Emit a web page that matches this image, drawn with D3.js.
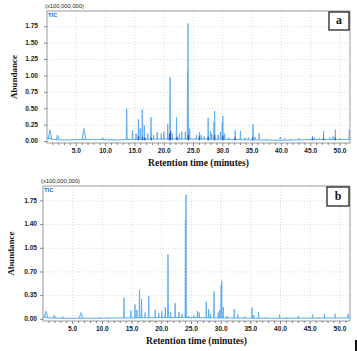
<!DOCTYPE html>
<html>
<head>
<meta charset="utf-8">
<script src="https://cdn.jsdelivr.net/npm/d3@7"></script>
<style>
  body { margin: 0; background: #fff; }
  svg { display: block; }
</style>
</head>
<body>
<svg id="chart" width="357" height="351"></svg>
<script>
// x ticks shared by both panels (minutes)
const xTicks = [5, 10, 15, 20, 25, 30, 35, 40, 45, 50];
const yTicksA = [0, 0.25, 0.5, 0.75, 1.0, 1.25, 1.5, 1.75];
const yTicksB = [0, 0.35, 0.70, 1.05, 1.40, 1.75];

// baseline of the TIC trace [time, abundance x1e8]
const baseA = [[0, 0.06], [1.2, 0.03], [3, 0.025], [5, 0.03], [8, 0.03], [12, 0.025], [13.4, 0.03], [20, 0.04], [24, 0.04], [30, 0.035], [35, 0.025], [40, 0.02], [45, 0.03], [51.7, 0.03]];
const baseB = [[0, 0.03], [1.2, 0.02], [3, 0.015], [8, 0.015], [13.4, 0.02], [20, 0.025], [24, 0.025], [30, 0.02], [40, 0.015], [51.7, 0.02]];

// peaks [time, apex, half width (min)]
const peaksA = [
  [0.5, 0.18, 0.35], [1.8, 0.10, 0.25], [6.3, 0.20, 0.35], [9.5, 0.06, 0.15], [11.0, 0.03, 0.1],
  [13.6, 0.50, 0.08], [14.6, 0.17, 0.06], [15.2, 0.12, 0.06], [15.6, 0.34, 0.07], [15.9, 0.20, 0.05],
  [16.25, 0.49, 0.07], [16.6, 0.25, 0.06], [17.2, 0.12, 0.05], [17.75, 0.37, 0.07], [18.2, 0.10, 0.05],
  [18.8, 0.14, 0.05], [19.5, 0.12, 0.05], [19.95, 0.15, 0.05], [20.6, 0.27, 0.06], [21.0, 0.98, 0.07],
  [21.4, 0.12, 0.05], [22.1, 0.37, 0.06], [22.6, 0.12, 0.05], [23.0, 0.15, 0.05], [23.6, 0.15, 0.05],
  [23.98, 1.08, 0.05], [24.06, 1.80, 0.06], [24.35, 0.20, 0.05], [25.5, 0.10, 0.05], [26.0, 0.14, 0.05],
  [26.3, 0.10, 0.05], [26.8, 0.08, 0.05], [27.5, 0.36, 0.06], [27.9, 0.16, 0.05], [28.1, 0.12, 0.05],
  [28.5, 0.30, 0.05], [28.6, 0.47, 0.06], [29.2, 0.10, 0.05], [29.6, 0.15, 0.05], [29.9, 0.30, 0.05],
  [30.0, 0.39, 0.06], [30.3, 0.12, 0.05], [31.0, 0.06, 0.05], [32.1, 0.17, 0.05], [33.0, 0.16, 0.05],
  [33.8, 0.06, 0.05], [34.4, 0.06, 0.05], [35.15, 0.26, 0.06], [35.5, 0.07, 0.05], [36.2, 0.13, 0.05],
  [37.5, 0.04, 0.05], [39.8, 0.07, 0.06], [40.6, 0.05, 0.05], [41.7, 0.04, 0.05], [43.0, 0.05, 0.05],
  [45.3, 0.08, 0.06], [45.6, 0.06, 0.05], [46.5, 0.05, 0.05], [47.2, 0.16, 0.05], [48.3, 0.06, 0.05],
  [48.8, 0.08, 0.05], [49.2, 0.18, 0.05], [50.0, 0.05, 0.05], [51.6, 0.18, 0.1]
];
// darker overlay trace in panel a
const peaksA2 = [
  [15.6, 0.08, 0.06], [16.3, 0.07, 0.06], [16.7, 0.06, 0.05], [17.8, 0.06, 0.05], [20.9, 0.12, 0.06],
  [21.1, 0.16, 0.05], [22.2, 0.07, 0.05], [24.1, 0.10, 0.05], [26.0, 0.08, 0.05], [27.5, 0.07, 0.05],
  [28.6, 0.10, 0.05], [30.0, 0.09, 0.05], [32.1, 0.06, 0.05], [35.1, 0.06, 0.05], [45.3, 0.05, 0.05],
  [47.2, 0.05, 0.05], [49.2, 0.06, 0.05]
];
const peaksB = [
  [0.5, 0.12, 0.35], [1.9, 0.06, 0.25], [3.3, 0.04, 0.2], [6.4, 0.10, 0.3], [9.5, 0.03, 0.15],
  [11.0, 0.02, 0.1], [13.65, 0.32, 0.07], [14.8, 0.13, 0.06], [15.5, 0.22, 0.06], [15.8, 0.14, 0.05],
  [16.25, 0.44, 0.07], [16.6, 0.30, 0.06], [17.2, 0.10, 0.05], [17.8, 0.34, 0.07], [18.9, 0.14, 0.05],
  [19.5, 0.09, 0.05], [20.0, 0.12, 0.05], [20.6, 0.18, 0.06], [21.05, 0.96, 0.07], [21.5, 0.10, 0.05],
  [22.25, 0.24, 0.06], [22.9, 0.11, 0.05], [23.4, 0.08, 0.05], [23.98, 1.46, 0.05], [24.08, 1.84, 0.06],
  [24.5, 0.05, 0.05], [25.4, 0.06, 0.05], [26.0, 0.12, 0.05], [26.3, 0.10, 0.05], [27.5, 0.26, 0.06],
  [27.9, 0.15, 0.05], [28.2, 0.08, 0.05], [28.8, 0.41, 0.06], [29.5, 0.10, 0.05], [29.75, 0.14, 0.05],
  [30.0, 0.50, 0.05], [30.1, 0.57, 0.06], [30.35, 0.18, 0.05], [31.0, 0.05, 0.05], [32.2, 0.15, 0.05],
  [32.8, 0.07, 0.05], [34.0, 0.04, 0.05], [35.2, 0.17, 0.06], [35.5, 0.06, 0.05], [36.3, 0.10, 0.05],
  [37.5, 0.03, 0.05], [39.85, 0.07, 0.06], [41.0, 0.03, 0.05], [43.0, 0.05, 0.05], [45.4, 0.07, 0.06],
  [46.5, 0.03, 0.05], [47.4, 0.08, 0.05], [49.2, 0.08, 0.05], [51.4, 0.08, 0.08]
];

const svg = d3.select("#chart");
const sans = "Liberation Sans, Arial, sans-serif";
const serif = "Liberation Serif, Times New Roman, serif";

function drawPanel(p) {
  const x = d3.scaleLinear().domain([0, 51.7]).range([p.left, p.right]);
  const y = d3.scaleLinear().domain(p.yDomain).range([p.bottom, p.top]);
  const g = svg.append("g");

  // grid
  g.selectAll(".vg").data(xTicks).join("line")
    .attr("x1", d => x(d)).attr("x2", d => x(d))
    .attr("y1", p.top).attr("y2", p.bottom)
    .attr("stroke", "#d0d0d0").attr("stroke-dasharray", "1,2").attr("stroke-width", 0.8);
  g.selectAll(".hg").data(p.yTicks.filter(d => d > 0)).join("line")
    .attr("x1", p.left).attr("x2", p.right)
    .attr("y1", d => y(d)).attr("y2", d => y(d))
    .attr("stroke", "#d0d0d0").attr("stroke-dasharray", "1,2").attr("stroke-width", 0.8);

  const line = d3.line().x(d => x(d[0])).y(d => y(d[1]));
  const clipId = "clip" + p.name;
  svg.append("clipPath").attr("id", clipId).append("rect")
    .attr("x", p.left).attr("y", p.top).attr("width", p.right - p.left).attr("height", p.bottom - p.top);
  const tr = g.append("g").attr("clip-path", `url(#${clipId})`);

  tr.append("path").datum(p.base).attr("d", line)
    .attr("fill", "none").attr("stroke", "#5aaaf2").attr("stroke-width", 1);
  p.series.forEach(s => {
    tr.selectAll(null).data(s.peaks).join("path")
      .attr("d", d => line([[d[0] - d[2], s.level], [d[0], d[1]], [d[0] + d[2], s.level]]))
      .attr("fill", s.fill).attr("fill-opacity", 0.35)
      .attr("stroke", s.color).attr("stroke-width", 0.9).attr("stroke-linejoin", "round");
  });

  // frame
  g.append("rect").attr("x", p.left).attr("y", p.top)
    .attr("width", p.right - p.left).attr("height", p.bottom - p.top)
    .attr("fill", "none").attr("stroke", "#9a9a9a").attr("stroke-width", 1);

  // axis ticks: minor every minute on x, major at labels
  g.selectAll(".xm").data(d3.range(1, 52)).join("line")
    .attr("x1", d => x(d)).attr("x2", d => x(d))
    .attr("y1", p.bottom).attr("y2", d => p.bottom + (d % 5 === 0 ? 3 : 2))
    .attr("stroke", "#555").attr("stroke-width", 0.7);
  g.selectAll(".ym").data(p.yTicks).join("line")
    .attr("x1", p.left - 3).attr("x2", p.left)
    .attr("y1", d => y(d)).attr("y2", d => y(d))
    .attr("stroke", "#555").attr("stroke-width", 0.7);

  // tick labels
  g.selectAll(".xt").data(xTicks).join("text")
    .attr("x", d => x(d)).attr("y", p.xLabelY)
    .attr("text-anchor", "middle").attr("dominant-baseline", "middle")
    .attr("font-family", sans).attr("font-size", 6.6).attr("font-weight", "bold")
    .attr("fill", "#222").text(d => d.toFixed(1));
  g.selectAll(".yt").data(p.yTicks).join("text")
    .attr("x", p.yLabelX).attr("y", d => y(d))
    .attr("text-anchor", "end").attr("dominant-baseline", "middle")
    .attr("font-family", sans).attr("font-size", 6.6).attr("font-weight", "bold")
    .attr("fill", "#222").text(d => d.toFixed(2));

  // titles
  g.append("text").attr("x", p.left - 2).attr("y", p.top - 3)
    .attr("font-family", sans).attr("font-size", 5.8)
    .attr("fill", "#222").text("(x100,000,000)");
  g.append("text").attr("x", p.left + 1).attr("y", p.top + 5.5)
    .attr("font-family", sans).attr("font-size", 5.8)
    .attr("font-weight", "bold").attr("fill", "#1f6fd0").text("TIC");
  g.append("text")
    .attr("transform", `translate(${p.yTitleX},${(p.top + p.bottom) / 2}) rotate(-90)`)
    .attr("text-anchor", "middle")
    .attr("font-family", serif).attr("font-size", 9)
    .attr("font-weight", "bold").attr("fill", "#111").text("Abundance");
  g.append("text").attr("x", (p.left + p.right) / 2).attr("y", p.xTitleY)
    .attr("text-anchor", "middle")
    .attr("font-family", serif).attr("font-size", 9.5)
    .attr("font-weight", "bold").attr("fill", "#111").text("Retention time (minutes)");

  // panel letter box
  g.append("rect").attr("x", p.box[0]).attr("y", p.box[1]).attr("width", p.box[2]).attr("height", p.box[3])
    .attr("fill", "#fff").attr("stroke", "#111").attr("stroke-width", 1.2);
  g.append("text").attr("x", p.box[0] + p.box[2] / 2).attr("y", p.box[1] + p.box[3] / 2 + 0.5)
    .attr("text-anchor", "middle").attr("dominant-baseline", "middle")
    .attr("font-family", serif).attr("font-size", 12)
    .attr("font-weight", "bold").attr("fill", "#111").text(p.name);
}

drawPanel({
  name: "a", left: 47, right: 350, top: 11, bottom: 143, yDomain: [-0.022, 1.99],
  yTicks: yTicksA, xLabelY: 151, yLabelX: 38, yTitleX: 17, xTitleY: 166,
  box: [329, 12, 20, 18], base: baseA,
  series: [
    { peaks: peaksA, level: 0.03, color: "#5aaaf2", fill: "#8cc4f7" },
    { peaks: peaksA2, level: 0.02, color: "#2a5cc0", fill: "#2a5cc0" }
  ]
});
drawPanel({
  name: "b", left: 43, right: 350, top: 186, bottom: 321, yDomain: [-0.025, 1.97],
  yTicks: yTicksB, xLabelY: 329, yLabelX: 37, yTitleX: 14, xTitleY: 344,
  box: [327, 187, 22, 19], base: baseB,
  series: [
    { peaks: peaksB, level: 0.02, color: "#5aaaf2", fill: "#8cc4f7" }
  ]
});

// stray mark at the lower right edge of the figure
svg.append("rect").attr("x", 355).attr("y", 340).attr("width", 2).attr("height", 11).attr("fill", "#111");
</script>
</body>
</html>
